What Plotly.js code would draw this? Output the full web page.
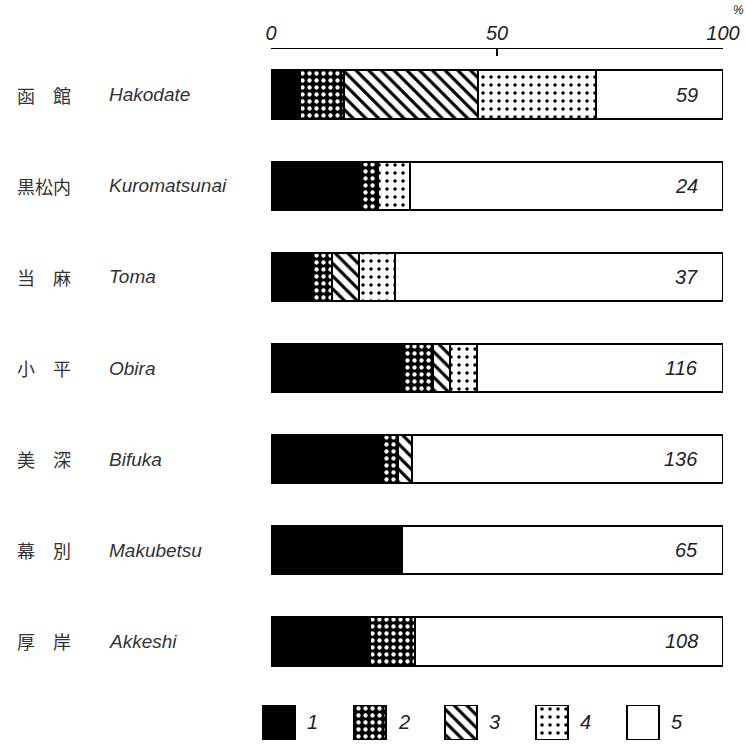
<!DOCTYPE html>
<html>
<head>
<meta charset="utf-8">
<script src="https://cdn.plot.ly/plotly-3.0.1.min.js"></script>
<style>html,body{margin:0;padding:0;background:#fff;}#chart{width:746px;height:744px;}</style>
</head>
<body>
<div id="chart"></div>
<script>
// ---- data ----
const categories = ['Hakodate', 'Kuromatsunai', 'Toma', 'Obira', 'Bifuka', 'Makubetsu', 'Akkeshi'];
const namesJa = ['函　館', '黒松内', '当　麻', '小　平', '美　深', '幕　別', '厚　岸'];
const type1 = [6.4, 19.7, 8.8, 29.2, 24.6, 29.0, 21.9];
const type2 = [9.7, 4.0, 4.6, 6.6, 3.5, null, 10.0];
const type3 = [29.6, null, 6.0, 3.8, 3.1, null, null];
const type4 = [26.1, 7.1, 8.0, 6.0, null, null, null];
const type5 = [28.2, 69.2, 72.6, 54.4, 68.8, 71.0, 68.1];
const counts = [59, 24, 37, 116, 136, 65, 108];
const typeLabels = ['1', '2', '3', '4', '5'];
const tickVals = [0, 50, 100];
const tickText = ['0', '50', '100'];

// ---- styles ----
const FONT = 'Liberation Sans, Arial, sans-serif';
const JFONT = 'Noto Sans CJK JP, sans-serif';
const lineStyle = {color: '#000', width: 2};
const styles = [
  {color: '#000', pattern: {shape: ''}},
  {color: '#000', pattern: {shape: '.', fgcolor: '#fff', bgcolor: '#000', size: 7, solidity: 0.3}},
  {color: '#fff', pattern: {shape: '\\', fgcolor: '#000', bgcolor: '#fff', size: 9, solidity: 0.35}},
  {color: '#fff', pattern: {shape: '.', fgcolor: '#000', bgcolor: '#fff', size: 8, solidity: 0.16}},
  {color: '#fff', pattern: {shape: ''}}
];
const series = [type1, type2, type3, type4, type5];

const traces = series.map((vals, i) => ({
  type: 'bar', orientation: 'h',
  x: vals, y: categories,
  xaxis: 'x', yaxis: 'y',
  marker: {color: styles[i].color, pattern: styles[i].pattern, line: lineStyle},
  showlegend: false, hoverinfo: 'skip'
}));

// legend keys drawn as bars on a small second axis
typeLabels.forEach((lab, i) => {
  traces.push({
    type: 'bar', x: [i], y: [1], width: 0.36,
    xaxis: 'x2', yaxis: 'y2',
    marker: {color: styles[i].color, pattern: styles[i].pattern, line: lineStyle},
    showlegend: false, hoverinfo: 'skip'
  });
});

const annotations = [];
categories.forEach((c, i) => {
  annotations.push({xref: 'paper', yref: 'y', x: -0.4968, y: c, xanchor: 'left', yanchor: 'middle',
    text: namesJa[i], showarrow: false, font: {family: JFONT, size: 18, color: '#333'}});
  annotations.push({xref: 'paper', yref: 'y', x: -0.3023, y: c, xanchor: 'left', yanchor: 'middle',
    text: c, showarrow: false, font: {family: FONT, size: 19, style: 'italic', color: '#333'}});
  annotations.push({xref: 'x', yref: 'y', x: 95, y: c, xanchor: 'right', yanchor: 'middle',
    text: String(counts[i]), showarrow: false, font: {family: FONT, size: 20, style: 'italic', color: '#222'}});
});
typeLabels.forEach((lab, i) => {
  annotations.push({xref: 'x2', yref: 'y2', x: i + 0.29, y: 0.5, xanchor: 'left', yanchor: 'middle',
    text: lab, showarrow: false, font: {family: FONT, size: 20, style: 'italic', color: '#222'}});
});
annotations.push({xref: 'paper', yref: 'paper', x: 1.033, y: 1.056, xanchor: 'center', yanchor: 'middle',
  text: '%', showarrow: false, font: {family: FONT, size: 12, style: 'italic', color: '#222'}});

const layout = {
  width: 746, height: 744,
  margin: {l: 250, r: 23, t: 49, b: 4},
  paper_bgcolor: '#fff', plot_bgcolor: 'rgba(0,0,0,0)',
  barmode: 'stack', bargap: 0.47,
  showlegend: false,
  xaxis: {
    domain: [0.0444, 1], range: [0, 100], side: 'top', anchor: 'y',
    tickmode: 'array', tickvals: tickVals, ticktext: tickText,
    ticks: 'inside', ticklen: 7, tickwidth: 1.5, tickcolor: '#000',
    showline: true, linecolor: '#000', linewidth: 1.5, mirror: false,
    showgrid: false, zeroline: false, fixedrange: true,
    tickfont: {family: FONT, size: 20, style: 'italic', color: '#222'}
  },
  yaxis: {
    domain: [0.0767, 1], type: 'category', range: [6.5, -0.5], anchor: 'x',
    showticklabels: false, ticks: '', showline: false, showgrid: false, zeroline: false, fixedrange: true
  },
  xaxis2: {
    domain: [0, 1], range: [-0.3187, 4.879], anchor: 'y2',
    showticklabels: false, ticks: '', showline: false, showgrid: false, zeroline: false, fixedrange: true
  },
  yaxis2: {
    domain: [0, 0.0507], range: [0, 1], anchor: 'x2',
    showticklabels: false, ticks: '', showline: false, showgrid: false, zeroline: false, fixedrange: true
  },
  annotations: annotations
};

Plotly.newPlot('chart', traces, layout, {displayModeBar: false, staticPlot: true});
</script>
</body>
</html>
